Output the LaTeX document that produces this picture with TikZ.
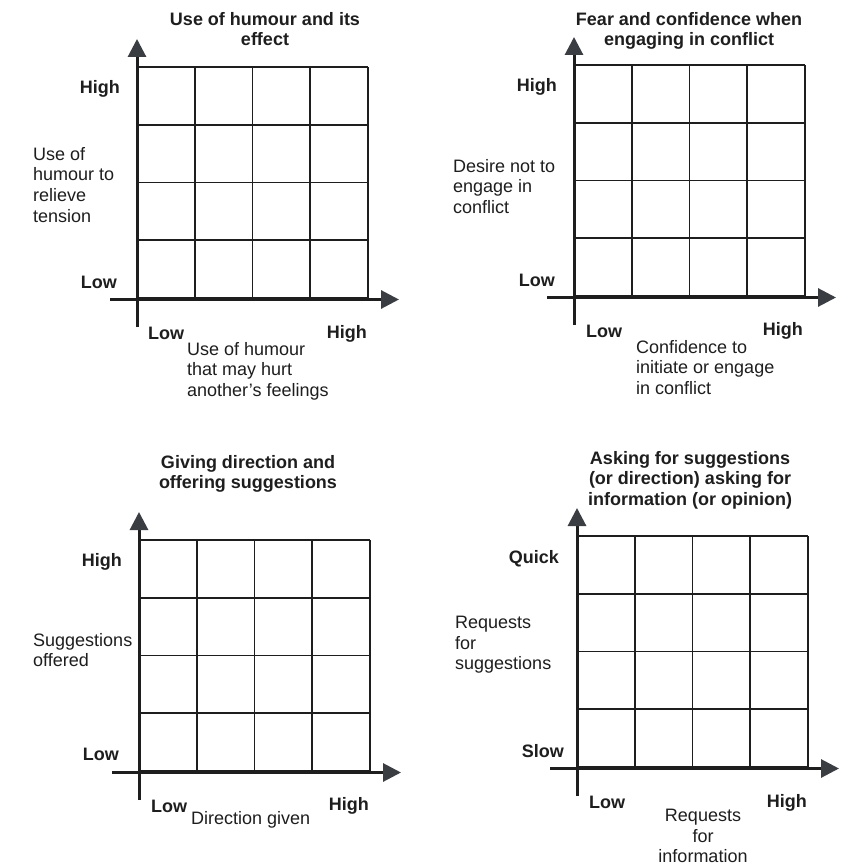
\documentclass[tikz,border=0pt]{standalone}
\usepackage{fontspec}
\setmainfont{Liberation Sans}
\usetikzlibrary{arrows.meta,positioning}
\definecolor{Ink}{HTML}{1E1E1E}
\definecolor{TipGray}{HTML}{3A3D42}

\begin{document}
\begin{tikzpicture}[x=1pt,y=-1pt,
    every node/.style={inner sep=0pt,text=Ink,font=\fontsize{18}{20.7}\selectfont},
    heading/.style={font=\fontsize{18}{20.7}\selectfont\bfseries,align=center,anchor=north},
    tick/.style={font=\fontsize{18}{20.7}\selectfont\bfseries},
    axislabel/.style={align=left,anchor=north west},
    gridline/.style={Ink,line width=1.6pt},
    axis/.style={Ink,line width=3pt,-{Triangle[length=18pt,width=18pt,color=TipGray]}}]
    \fill[white] (0,0) rectangle (847,866);
    \useasboundingbox (0,0) rectangle (847,866);

    % the four 4x4 grids with their axes
    \foreach \p/\gx/\gy in {hum/137/298,fear/574/296,dir/139/771,ask/577/767} {
      \foreach \i in {0,...,4} {
        \draw[gridline] (\gx+57.75*\i,\gy) -- ++(0,-231);
        \draw[gridline] (\gx,\gy-57.75*\i) -- ++(231,0);
      }
      \coordinate (\p-ybot) at (\gx,\gy+29);
      \coordinate (\p-ytip) at (\gx,\gy-259);
      \coordinate (\p-xleft) at (\gx-27,\gy+1.5);
      \coordinate (\p-xtip) at (\gx+262,\gy+1.5);
      \draw[axis] (\p-ybot) -- (\p-ytip);
      \draw[axis] (\p-xleft) -- (\p-xtip);
    }

    % use of humour
    \node[heading] (hum-title) at (265,12) {Use of humour and its\\effect};
    \node[tick,anchor=base east] (hum-yhigh) at (120,94) {High};
    \node[tick,anchor=base east] (hum-ylow) at (117,288) {Low};
    \node[axislabel] (hum-ylabel) at (33,147) {Use of\\humour to\\relieve\\tension};
    \node[tick,anchor=base west] (hum-xlow) at (148,339) {Low};
    \node[tick,anchor=base east] (hum-xhigh) at (367,338) {High};
    \node[axislabel] (hum-xlabel) at (187,342) {Use of humour\\that may hurt\\another's feelings};

    % fear and confidence
    \node[heading] (fear-title) at (689,12) {Fear and confidence when\\engaging in conflict};
    \node[tick,anchor=base east] (fear-yhigh) at (557,92) {High};
    \node[tick,anchor=base east] (fear-ylow) at (555,286) {Low};
    \node[axislabel] (fear-ylabel) at (453,159) {Desire not to\\engage in\\conflict};
    \node[tick,anchor=base west] (fear-xlow) at (586,337) {Low};
    \node[tick,anchor=base east] (fear-xhigh) at (803,335) {High};
    \node[axislabel] (fear-xlabel) at (636,340) {Confidence to\\initiate or engage\\in conflict};

    % giving direction
    \node[heading] (dir-title) at (248,455) {Giving direction and\\offering suggestions};
    \node[tick,anchor=base east] (dir-yhigh) at (122,566) {High};
    \node[tick,anchor=base east] (dir-ylow) at (119,760) {Low};
    \node[axislabel] (dir-ylabel) at (33,633) {Suggestions\\offered};
    \node[tick,anchor=base west] (dir-xlow) at (151,812) {Low};
    \node[tick,anchor=base east] (dir-xhigh) at (369,810) {High};
    \node[anchor=base west] (dir-xlabel) at (191,824) {Direction given};

    % asking for suggestions
    \node[heading] (ask-title) at (690,451) {Asking for suggestions\\(or direction) asking for\\information (or opinion)};
    \node[tick,anchor=base east] (ask-yhigh) at (559,563) {Quick};
    \node[tick,anchor=base east] (ask-ylow) at (564,757) {Slow};
    \node[axislabel] (ask-ylabel) at (455,616) {Requests\\for\\suggestions};
    \node[tick,anchor=base west] (ask-xlow) at (589,808) {Low};
    \node[tick,anchor=base east] (ask-xhigh) at (807,807) {High};
    \node[align=center,anchor=north] (ask-xlabel) at (703,809) {Requests\\for\\information};
  \end{tikzpicture}
\end{document}
